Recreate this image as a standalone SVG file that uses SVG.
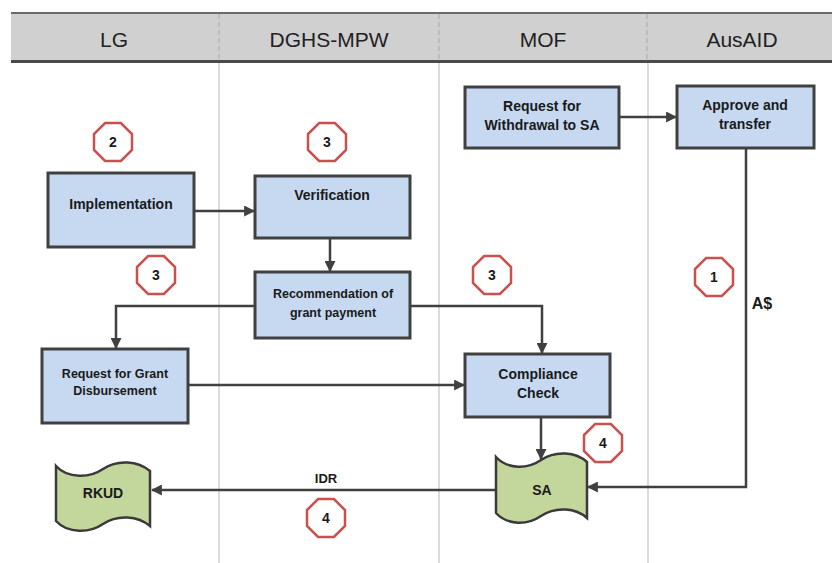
<svg xmlns="http://www.w3.org/2000/svg" width="832" height="563" viewBox="0 0 832 563">
<defs>
<style>
.box{fill:#c6d9f1;stroke:#404040;stroke-width:3}
.tape{fill:#c3d69b;stroke:#3a3a3a;stroke-width:2.5}
.bt{font-family:"Liberation Sans",Arial,sans-serif;font-weight:bold;fill:#1a1a1a;text-anchor:middle}
.hd{font-family:"Liberation Sans",Arial,sans-serif;font-size:21px;fill:#222;text-anchor:middle}
.oct{fill:#fff;stroke:#c9504d;stroke-width:2.5}
.ot{font-family:"Liberation Sans",Arial,sans-serif;font-weight:bold;font-size:14px;fill:#1a1a1a;text-anchor:middle}
.cn{fill:none;stroke:#404040;stroke-width:2.5;marker-end:url(#ah)}
.lane{stroke:#cfcfcf;stroke-width:1.5}
</style>
<marker id="ah" viewBox="0 0 10 10" refX="9" refY="5" markerWidth="4.4" markerHeight="4.4" markerUnits="strokeWidth" orient="auto">
<path d="M0,0 L10,5 L0,10 Z" fill="#404040"/>
</marker>
<polygon id="octg" points="-7.9,-19 7.9,-19 19,-7.9 19,7.9 7.9,19 -7.9,19 -19,7.9 -19,-7.9"/>
</defs>
<rect width="832" height="563" fill="#fff"/>
<g id="header">
<rect x="11" y="12" width="821" height="50" fill="#d0d0d0"/>
<line x1="11" y1="13" x2="832" y2="13" stroke="#6a6a6a" stroke-width="2"/>
<line x1="11" y1="61.5" x2="832" y2="61.5" stroke="#4a4a4a" stroke-width="3"/>
<g stroke="#a8a8a8" stroke-width="1" stroke-dasharray="5 3">
<line x1="219" y1="14" x2="219" y2="60"/>
<line x1="439" y1="14" x2="439" y2="60"/>
<line x1="647" y1="14" x2="647" y2="60"/>
</g>
<text class="hd" x="114" y="47">LG</text>
<text class="hd" x="329" y="47">DGHS-MPW</text>
<text class="hd" x="543" y="47">MOF</text>
<text class="hd" x="742" y="47">AusAID</text>
</g>
<g id="lanes">
<line class="lane" x1="219" y1="63" x2="219" y2="563"/>
<line class="lane" x1="439" y1="63" x2="439" y2="563"/>
<line class="lane" x1="648" y1="63" x2="648" y2="563"/>
</g>
<g id="connectors">
<path class="cn" d="M619,117 H676"/>
<path class="cn" d="M194,211 H254"/>
<path class="cn" d="M330,238 V271"/>
<path class="cn" d="M255,306 H116 V348"/>
<path class="cn" d="M410,306 H542 V353"/>
<path class="cn" d="M188,385 H464"/>
<path class="cn" d="M541,417 V459"/>
<path class="cn" d="M746,148 V487 H588"/>
<path class="cn" d="M496,490 H152"/>
<text class="bt" x="762" y="309" font-size="16">A$</text>
<text class="bt" x="326" y="483" font-size="13">IDR</text>
</g>
<g id="withdrawal">
<rect class="box" x="465" y="87" width="154" height="61"/>
<text class="bt" x="542" y="111" font-size="14">Request for</text>
<text class="bt" x="542" y="130" font-size="14">Withdrawal to SA</text>
</g>
<g id="approve">
<rect class="box" x="677" y="86" width="137" height="62"/>
<text class="bt" x="745" y="110" font-size="14">Approve and</text>
<text class="bt" x="745" y="129" font-size="14">transfer</text>
</g>
<g id="implementation">
<rect class="box" x="48" y="173" width="146" height="74"/>
<text class="bt" x="121" y="209" font-size="14">Implementation</text>
</g>
<g id="verification">
<rect class="box" x="255" y="176" width="155" height="62"/>
<text class="bt" x="332" y="200" font-size="14">Verification</text>
</g>
<g id="recommendation">
<rect class="box" x="255" y="272" width="155" height="66"/>
<text class="bt" x="333" y="297.5" font-size="12.5">Recommendation of</text>
<text class="bt" x="333" y="316.5" font-size="12.5">grant payment</text>
</g>
<g id="requestgrant">
<rect class="box" x="42" y="349" width="146" height="74"/>
<text class="bt" x="115" y="377.5" font-size="12.5">Request for Grant</text>
<text class="bt" x="115" y="394.5" font-size="12.5">Disbursement</text>
</g>
<g id="compliance">
<rect class="box" x="465" y="354" width="145" height="63"/>
<text class="bt" x="538" y="379" font-size="14">Compliance</text>
<text class="bt" x="538" y="398" font-size="14">Check</text>
</g>
<g id="sa">
<path class="tape" d="M496,457 C508,470 528,469 541,460 C556,450 576,452 587,462 V518 C576,508 556,506 541,516 C528,525 508,526 496,513 Z"/>
<text class="bt" x="542" y="495" font-size="14">SA</text>
</g>
<g id="rkud">
<path class="tape" d="M56,466 C68,479 90,478 103,469 C118,459 138,461 150,471 V526 C138,516 118,514 103,524 C90,533 68,534 56,521 Z"/>
<text class="bt" x="103" y="498" font-size="14">RKUD</text>
</g>
<g id="badge2"><use href="#octg" class="oct" x="113" y="142"/><text class="ot" x="113" y="147">2</text></g>
<g id="badge3a"><use href="#octg" class="oct" x="327" y="142"/><text class="ot" x="327" y="147">3</text></g>
<g id="badge3b"><use href="#octg" class="oct" x="156" y="275"/><text class="ot" x="156" y="280">3</text></g>
<g id="badge3c"><use href="#octg" class="oct" x="492" y="275"/><text class="ot" x="492" y="280">3</text></g>
<g id="badge1"><use href="#octg" class="oct" x="714" y="277"/><text class="ot" x="714" y="282">1</text></g>
<g id="badge4a"><use href="#octg" class="oct" x="603" y="443"/><text class="ot" x="603" y="448">4</text></g>
<g id="badge4b"><use href="#octg" class="oct" x="326" y="518"/><text class="ot" x="326" y="523">4</text></g>
</svg>
